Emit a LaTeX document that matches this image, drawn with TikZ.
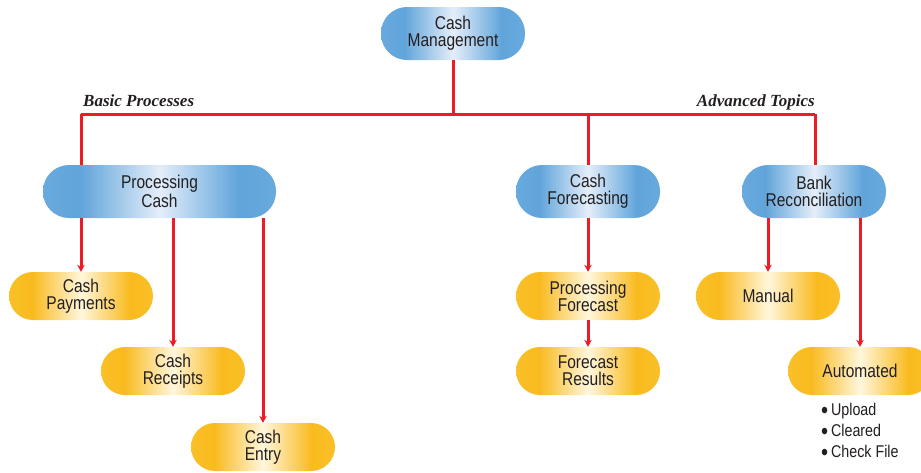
\documentclass[tikz,border=0pt]{standalone}
\usepackage{fontspec}
\setmainfont{Liberation Sans}[FakeStretch=0.84]
\newfontfamily\labelfont{Liberation Serif}[BoldItalicFont={Liberation Serif Bold Italic}]
\usetikzlibrary{arrows.meta}
\definecolor{bluedge}{RGB}{104,170,222}
\definecolor{bluedark}{RGB}{96,164,218}
\definecolor{bluemid}{RGB}{228,238,250}
\definecolor{yeledge}{RGB}{250,192,40}
\definecolor{yeldark}{RGB}{249,186,30}
\definecolor{yelmid}{RGB}{255,246,220}
\definecolor{redline}{RGB}{237,28,36}
\definecolor{txt}{RGB}{35,31,32}
\pgfdeclarehorizontalshading{blueshade}{100bp}{color(0bp)=(bluedge); color(25bp)=(bluedge); color(33bp)=(bluedark); color(50bp)=(bluemid); color(67bp)=(bluedark); color(75bp)=(bluedge); color(100bp)=(bluedge)}
\pgfdeclarehorizontalshading{yelshade}{100bp}{color(0bp)=(yeledge); color(25bp)=(yeledge); color(33bp)=(yeldark); color(50bp)=(yelmid); color(67bp)=(yeldark); color(75bp)=(yeledge); color(100bp)=(yeledge)}
\tikzset{
  box/.style={rectangle, inner sep=0pt, align=center, text=txt,
    font=\fontsize{18.5}{17}\selectfont},
  bluebox/.style={box, shading=blueshade, minimum width=144pt, minimum height=53pt, rounded corners=26pt},
  yelbox/.style={box, shading=yelshade, minimum width=144pt, minimum height=48pt, rounded corners=24pt},
  conn/.style={draw=redline, line width=3pt},
  arr/.style={conn, -{Stealth[length=7pt,width=7.5pt]}},
  lab/.style={inner sep=0pt, text=txt, font=\labelfont\bfseries\itshape\fontsize{17}{17}\selectfont}
}
\newcommand{\bigbul}{\smash{\raisebox{-2.5pt}{\fontsize{24}{16}\selectfont\textbullet}}}
\begin{document}
\begin{tikzpicture}[x=1pt,y=-1pt]
\useasboundingbox (0,0) rectangle (921,472);
% top
\node[bluebox] (cm) at (453,33.5) {Cash\\Management};
% level 1
\node[bluebox, minimum width=233pt] (pc) at (159.5,191.5) {Processing\\Cash};
\node[bluebox] (cf) at (588,191.5) {Cash\\Forecasting};
\node[bluebox] (br) at (814,191.5) {Bank\\Reconciliation};
% level 2
\node[yelbox] (cp) at (81,296) {Cash\\Payments};
\node[yelbox] (cr) at (173,371) {Cash\\Receipts};
\node[yelbox] (ce) at (263,447) {Cash\\Entry};
\node[yelbox] (pf) at (588,296) {Processing\\Forecast};
\node[yelbox] (fr) at (588,371) {Forecast\\Results};
\node[yelbox] (mn) at (768,296) {Manual};
\node[yelbox] (au) at (860,371) {Automated};
% labels
\node[lab, anchor=base west] (bp) at (83,106) {Basic Processes};
\node[lab, anchor=base east] (at) at (815,106) {Advanced Topics};
% bullets
\node[inner sep=0pt, anchor=base west, align=left, text=txt,
  font=\fontsize{17}{21}\selectfont] (bl) at (821,457.5)
  {\bigbul\,Upload\\\bigbul\,Cleared\\\bigbul\,Check File};
% connectors
\coordinate (jl) at (81,114);
\coordinate (jr) at (815,114);
\draw[conn] (cm.south) -- (cm.south |- jl);
\draw[conn] (jl) -- (jr);
\draw[conn] (jl) -- (jl |- pc.north);
\draw[conn] (jl -| cf.north) -- (cf.north);
\draw[conn] (jr) -- (jr |- br.north);
\draw[arr] (pc.south -| cp.north) -- (cp.north);
\draw[arr] (pc.south -| cr.north) -- (cr.north);
\draw[arr] (pc.south -| ce.north) -- (ce.north);
\draw[arr] (cf.south) -- (pf.north);
\draw[arr] (pf.south) -- (pf.south |- fr.north);
\draw[arr] (br.south -| mn.north) -- (mn.north);
\draw[arr] (br.south -| au.north) -- (au.north);
\end{tikzpicture}
\end{document}
